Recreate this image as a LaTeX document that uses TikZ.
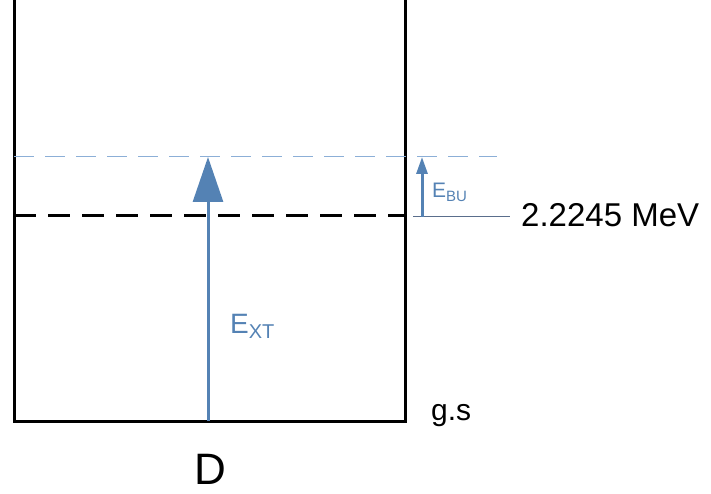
\documentclass[tikz,border=0pt]{standalone}
\usepackage{fontspec}
\setmainfont{Liberation Sans}
\usetikzlibrary{arrows.meta}
\definecolor{arrblue}{RGB}{84,130,180}
\definecolor{lightblue}{RGB}{140,175,215}
\definecolor{linegray}{RGB}{90,110,140}
\begin{document}
\begin{tikzpicture}[x=1pt,y=-1pt,
  wall/.style={line width=3pt,black},
  lbl/.style={inner sep=0pt,anchor=base west},
  bigarrow/.style={arrblue,line width=3pt,-{Triangle[length=45pt,width=30pt]}},
  smallarrow/.style={arrblue,line width=3pt,-{Triangle[length=17pt,width=11pt]}}]
\useasboundingbox (0,0) rectangle (711,494);
% well
\coordinate (tl) at (14,0);
\coordinate (bl) at (14,421);
\coordinate (br) at (405,421);
\coordinate (tr) at (405,0);
\draw[wall,line join=miter] (tl) -- (bl) -- (br) -- (tr);
% levels
\coordinate (dl) at (14,216);
\coordinate (dr) at (405,216);
\draw[line width=3pt,dash pattern=on 22pt off 12pt] (dl) -- (dr);
\coordinate (ul) at (14,157);
\coordinate (ur) at (497,157);
\draw[lightblue,line width=1pt,dash pattern=on 20pt off 11pt] (ul) -- (ur);
\coordinate (ml) at (413,216);
\coordinate (mr) at (510,216);
\draw[linegray,line width=0.8pt] (ml) -- (mr);
% arrows
\coordinate (a1) at (208,421);
\coordinate (a2) at (208,157);
\draw[bigarrow] (a1) -- (a2);
\coordinate (b1) at (422,217);
\coordinate (b2) at (422,157);
\draw[smallarrow] (b1) -- (b2);
% labels
\node[lbl,text=arrblue,font=\fontsize{28}{30}\selectfont] (ext) at (230,333) {E\raisebox{-5pt}{\fontsize{20}{22}\selectfont XT}};
\node[lbl,text=arrblue,font=\fontsize{21}{23}\selectfont] (ebu) at (432,198) {E\raisebox{-4pt}{\fontsize{15}{17}\selectfont BU}};
\node[lbl,font=\fontsize{33}{35}\selectfont] (mev) at (521,226) {2.2245 MeV};
\node[lbl,font=\fontsize{30}{32}\selectfont] (gs) at (431,420) {g.s};
\node[lbl,anchor=base,font=\fontsize{44}{46}\selectfont] (d) at (210,484) {D};
\end{tikzpicture}
\end{document}
